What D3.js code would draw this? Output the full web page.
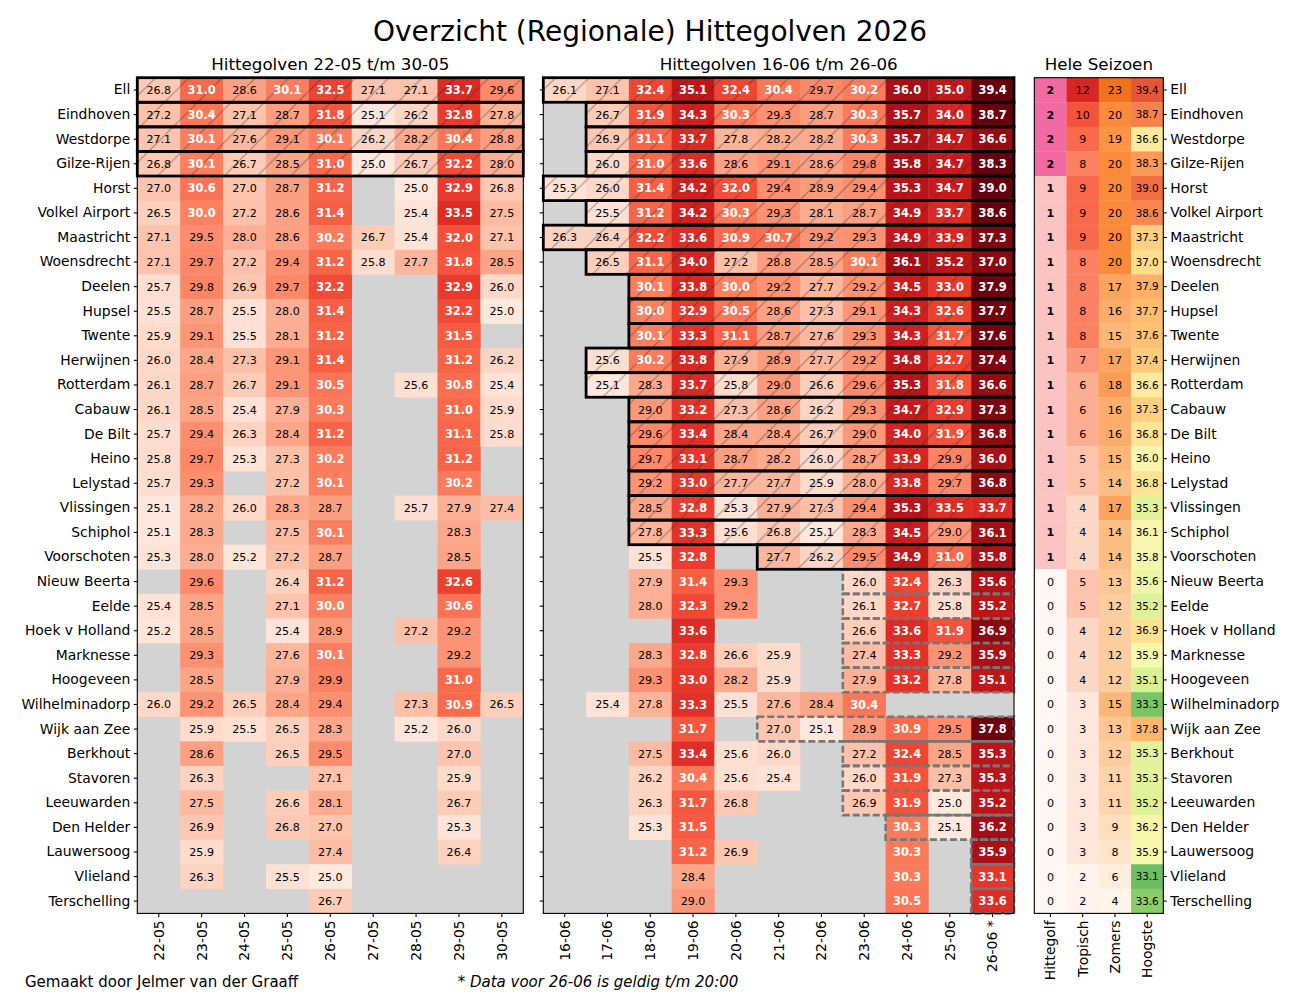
<!DOCTYPE html>
<html><head><meta charset="utf-8">
<script src="https://cdn.jsdelivr.net/npm/d3@7"></script>
<style>body{margin:0;background:#fff}</style>
</head><body><div id="chart"></div>
<script>
const stations = ["Ell","Eindhoven","Westdorpe","Gilze-Rijen","Horst","Volkel Airport","Maastricht","Woensdrecht","Deelen","Hupsel","Twente","Herwijnen","Rotterdam","Cabauw","De Bilt","Heino","Lelystad","Vlissingen","Schiphol","Voorschoten","Nieuw Beerta","Eelde","Hoek v Holland","Marknesse","Hoogeveen","Wilhelminadorp","Wijk aan Zee","Berkhout","Stavoren","Leeuwarden","Den Helder","Lauwersoog","Vlieland","Terschelling"];
const datesA = ["22-05","23-05","24-05","25-05","26-05","27-05","28-05","29-05","30-05"];
const datesB = ["16-06","17-06","18-06","19-06","20-06","21-06","22-06","23-06","24-06","25-06","26-06 *"];
const summaryCols = ["Hittegolf","Tropisch","Zomers","Hoogste"];

const tempsA = [
[26.8,31.0,28.6,30.1,32.5,27.1,27.1,33.7,29.6],
[27.2,30.4,27.1,28.7,31.8,25.1,26.2,32.8,27.8],
[27.1,30.1,27.6,29.1,30.1,26.2,28.2,30.4,28.8],
[26.8,30.1,26.7,28.5,31.0,25.0,26.7,32.2,28.0],
[27.0,30.6,27.0,28.7,31.2,null,25.0,32.9,26.8],
[26.5,30.0,27.2,28.6,31.4,null,25.4,33.5,27.5],
[27.1,29.5,28.0,28.6,30.2,26.7,25.4,32.0,27.1],
[27.1,29.7,27.2,29.4,31.2,25.8,27.7,31.8,28.5],
[25.7,29.8,26.9,29.7,32.2,null,null,32.9,26.0],
[25.5,28.7,25.5,28.0,31.4,null,null,32.2,25.0],
[25.9,29.1,25.5,28.1,31.2,null,null,31.5,null],
[26.0,28.4,27.3,29.1,31.4,null,null,31.2,26.2],
[26.1,28.7,26.7,29.1,30.5,null,25.6,30.8,25.4],
[26.1,28.5,25.4,27.9,30.3,null,null,31.0,25.9],
[25.7,29.4,26.3,28.4,31.2,null,null,31.1,25.8],
[25.8,29.7,25.3,27.3,30.2,null,null,31.2,null],
[25.7,29.3,null,27.2,30.1,null,null,30.2,null],
[25.1,28.2,26.0,28.3,28.7,null,25.7,27.9,27.4],
[25.1,28.3,null,27.5,30.1,null,null,28.3,null],
[25.3,28.0,25.2,27.2,28.7,null,null,28.5,null],
[null,29.6,null,26.4,31.2,null,null,32.6,null],
[25.4,28.5,null,27.1,30.0,null,null,30.6,null],
[25.2,28.5,null,25.4,28.9,null,27.2,29.2,null],
[null,29.3,null,27.6,30.1,null,null,29.2,null],
[null,28.5,null,27.9,29.9,null,null,31.0,null],
[26.0,29.2,26.5,28.4,29.4,null,27.3,30.9,26.5],
[null,25.9,25.5,26.5,28.3,null,25.2,26.0,null],
[null,28.6,null,26.5,29.5,null,null,27.0,null],
[null,26.3,null,null,27.1,null,null,25.9,null],
[null,27.5,null,26.6,28.1,null,null,26.7,null],
[null,26.9,null,26.8,27.0,null,null,25.3,null],
[null,25.9,null,null,27.4,null,null,26.4,null],
[null,26.3,null,25.5,25.0,null,null,null,null],
[null,null,null,null,26.7,null,null,null,null]
];

const tempsB = [
[26.1,27.1,32.4,35.1,32.4,30.4,29.7,30.2,36.0,35.0,39.4],
[null,26.7,31.9,34.3,30.3,29.3,28.7,30.3,35.7,34.0,38.7],
[null,26.9,31.1,33.7,27.8,28.2,28.2,30.3,35.7,34.7,36.6],
[null,26.0,31.0,33.6,28.6,29.1,28.6,29.8,35.8,34.7,38.3],
[25.3,26.0,31.4,34.2,32.0,29.4,28.9,29.4,35.3,34.7,39.0],
[null,25.5,31.2,34.2,30.3,29.3,28.1,28.7,34.9,33.7,38.6],
[26.3,26.4,32.2,33.6,30.9,30.7,29.2,29.3,34.9,33.9,37.3],
[null,26.5,31.1,34.0,27.2,28.8,28.5,30.1,36.1,35.2,37.0],
[null,null,30.1,33.8,30.0,29.2,27.7,29.2,34.5,33.0,37.9],
[null,null,30.0,32.9,30.5,28.6,27.3,29.1,34.3,32.6,37.7],
[null,null,30.1,33.3,31.1,28.7,27.6,29.3,34.3,31.7,37.6],
[null,25.6,30.2,33.8,27.9,28.9,27.7,29.2,34.8,32.7,37.4],
[null,25.1,28.3,33.7,25.8,29.0,26.6,29.6,35.3,31.8,36.6],
[null,null,29.0,33.2,27.3,28.6,26.2,29.3,34.7,32.9,37.3],
[null,null,29.6,33.4,28.4,28.4,26.7,29.0,34.0,31.9,36.8],
[null,null,29.7,33.1,28.7,28.2,26.0,28.7,33.9,29.9,36.0],
[null,null,29.2,33.0,27.7,27.7,25.9,28.0,33.8,29.7,36.8],
[null,null,28.5,32.8,25.3,27.9,27.3,29.4,35.3,33.5,33.7],
[null,null,27.8,33.3,25.6,26.8,25.1,28.3,34.5,29.0,36.1],
[null,null,25.5,32.8,null,27.7,26.2,29.5,34.9,31.0,35.8],
[null,null,27.9,31.4,29.3,null,null,26.0,32.4,26.3,35.6],
[null,null,28.0,32.3,29.2,null,null,26.1,32.7,25.8,35.2],
[null,null,null,33.6,null,null,null,26.6,33.6,31.9,36.9],
[null,null,28.3,32.8,26.6,25.9,null,27.4,33.3,29.2,35.9],
[null,null,29.3,33.0,28.2,25.9,null,27.9,33.2,27.8,35.1],
[null,25.4,27.8,33.3,25.5,27.6,28.4,30.4,null,null,null],
[null,null,null,31.7,null,27.0,25.1,28.9,30.9,29.5,37.8],
[null,null,27.5,33.4,25.6,26.0,null,27.2,32.4,28.5,35.3],
[null,null,26.2,30.4,25.6,25.4,null,26.0,31.9,27.3,35.3],
[null,null,26.3,31.7,26.8,null,null,26.9,31.9,25.0,35.2],
[null,null,25.3,31.5,null,null,null,null,30.3,25.1,36.2],
[null,null,null,31.2,26.9,null,null,null,30.3,null,35.9],
[null,null,null,28.4,null,null,null,null,30.3,null,33.1],
[null,null,null,29.0,null,null,null,null,30.5,null,33.6]
];

const hittegolf = [2,2,2,2,1,1,1,1,1,1,1,1,1,1,1,1,1,1,1,1,0,0,0,0,0,0,0,0,0,0,0,0,0,0];
const tropisch  = [12,10,9,8,9,9,9,8,8,8,8,7,6,6,6,5,5,4,4,4,5,5,4,4,4,3,3,3,3,3,3,3,2,2];
const zomers    = [23,20,19,20,20,20,20,20,17,16,15,17,18,16,16,15,14,17,14,14,13,12,12,12,12,15,13,12,11,11,9,8,6,4];
const hoogste   = [39.4,38.7,36.6,38.3,39.0,38.6,37.3,37.0,37.9,37.7,37.6,37.4,36.6,37.3,36.8,36.0,36.8,35.3,36.1,35.8,35.6,35.2,36.9,35.9,35.1,33.3,37.8,35.3,35.3,35.2,36.2,35.9,33.1,33.6];

// confirmed heat waves (first day, last day) per station
const wavesA = [["22-05","30-05"],["22-05","30-05"],["22-05","30-05"],["22-05","30-05"]];
const wavesB = [["16-06","26-06 *"],["17-06","26-06 *"],["17-06","26-06 *"],["17-06","26-06 *"],["16-06","26-06 *"],["17-06","26-06 *"],["16-06","26-06 *"],["17-06","26-06 *"],["18-06","26-06 *"],["18-06","26-06 *"],["18-06","26-06 *"],["17-06","26-06 *"],["17-06","26-06 *"],["18-06","26-06 *"],["18-06","26-06 *"],["18-06","26-06 *"],["18-06","26-06 *"],["18-06","26-06 *"],["18-06","26-06 *"],["21-06","26-06 *"]];
// possible (not yet confirmed) heat waves per station
const pendingB = [null,null,null,null,null,null,null,null,null,null,null,null,null,null,null,null,null,null,null,null,
["23-06","26-06 *"],["23-06","26-06 *"],["23-06","26-06 *"],["23-06","26-06 *"],["23-06","26-06 *"],null,["21-06","26-06 *"],["23-06","26-06 *"],["23-06","26-06 *"],["23-06","26-06 *"],["24-06","26-06 *"],["26-06 *","26-06 *"],["26-06 *","26-06 *"],["26-06 *","26-06 *"]];

const W = 1300, H = 1000;
const FONT = "DejaVu Sans, sans-serif";
const svg = d3.select("#chart").append("svg").attr("width", W).attr("height", H)
  .style("font-family", FONT);

const defs = svg.append("defs");
const hs = 33.333;
const pat = defs.append("pattern").attr("id","hatch").attr("patternUnits","userSpaceOnUse")
  .attr("width", hs).attr("height", hs).attr("x",0).attr("y",0);
pat.append("path").attr("d", `M-2,2 L2,-2 M0,${hs} L${hs},0 M${hs-2},${hs+2} L${hs+2},${hs-2}`)
  .attr("stroke","rgba(40,40,40,0.45)").attr("stroke-width",1);

const yTop = 77.7, yBot = 913.4;
const y = d3.scaleBand().domain(stations).range([yTop, yBot]);
const xA = d3.scaleBand().domain(datesA).range([137.3, 523.3]);
const xB = d3.scaleBand().domain(datesB).range([543.3, 1014]);
const xC = d3.scaleBand().domain(summaryCols).range([1034.3, 1163.3]);
const tempColor = d3.scaleSequential(d3.interpolateReds).domain([24, 38]).clamp(true);

function drawPanel(x, dates, temps, waves, pending) {
  const g = svg.append("g");
  const [x0, x1] = x.range();
  g.append("rect").attr("x", x0).attr("y", yTop).attr("width", x1 - x0).attr("height", yBot - yTop)
    .attr("fill", "#d3d3d3");
  const cells = [];
  temps.forEach((row, i) => row.forEach((v, j) => {
    if (v !== null) cells.push({s: stations[i], d: dates[j], v});
  }));
  g.selectAll("rect.cell").data(cells).join("rect").attr("class","cell")
    .attr("x", d => x(d.d)).attr("y", d => y(d.s))
    .attr("width", x.bandwidth() + 0.3).attr("height", y.bandwidth() + 0.3)
    .attr("fill", d => tempColor(d.v));
  const wv = [];
  waves.forEach((w, i) => { if (w) wv.push({s: stations[i], a: w[0], b: w[1]}); });
  g.selectAll("rect.hatch").data(wv).join("rect").attr("class","hatch")
    .attr("x", d => x(d.a)).attr("y", d => y(d.s))
    .attr("width", d => x(d.b) + x.bandwidth() - x(d.a)).attr("height", y.bandwidth())
    .attr("fill", "url(#hatch)");
  g.selectAll("text.val").data(cells).join("text").attr("class","val")
    .attr("x", d => x(d.d) + x.bandwidth() / 2).attr("y", d => y(d.s) + y.bandwidth() / 2)
    .attr("dy", "0.36em").attr("text-anchor", "middle")
    .attr("font-size", d => d.v >= 30 ? "11.4px" : "11.1px")
    .attr("font-weight", d => d.v >= 30 ? "bold" : "normal")
    .attr("fill", d => d.v >= 30 ? "#fff" : "#000")
    .text(d => d.v.toFixed(1));
  const pv = [];
  (pending || []).forEach((w, i) => { if (w) pv.push({s: stations[i], a: w[0], b: w[1]}); });
  g.selectAll("rect.pend").data(pv).join("rect").attr("class","pend")
    .attr("x", d => x(d.a)).attr("y", d => y(d.s))
    .attr("width", d => x(d.b) + x.bandwidth() - x(d.a)).attr("height", y.bandwidth())
    .attr("fill", "none").attr("stroke", "#777").attr("stroke-width", 2.6)
    .attr("stroke-dasharray", "7,3");
  g.selectAll("rect.wave").data(wv).join("rect").attr("class","wave")
    .attr("x", d => x(d.a)).attr("y", d => y(d.s))
    .attr("width", d => x(d.b) + x.bandwidth() - x(d.a)).attr("height", y.bandwidth())
    .attr("fill", "none").attr("stroke", "#000").attr("stroke-width", 2.8);
  g.append("rect").attr("x", x0).attr("y", yTop).attr("width", x1 - x0).attr("height", yBot - yTop)
    .attr("fill", "none").attr("stroke", "#000").attr("stroke-width", 1.1);
}

drawPanel(xA, datesA, tempsA, wavesA, null);
drawPanel(xB, datesB, tempsB, wavesB, pendingB);

// summary panel
const summary = [
  {col: "Hittegolf", vals: hittegolf, color: v => d3.interpolateRdPu(v / 4), fmt: v => String(v), bold: v => v > 0, size: 11.1},
  {col: "Tropisch", vals: tropisch, color: v => d3.interpolateReds((v - 1.8) / 14.5), fmt: v => String(v), bold: () => false, size: 11.1},
  {col: "Zomers", vals: zomers, color: v => d3.interpolateOranges((v - 4) / 31.7), fmt: v => String(v), bold: () => false, size: 11.1},
  {col: "Hoogste", vals: hoogste, color: v => d3.interpolateRdYlGn(1 - (v - 31) / 10), fmt: v => v.toFixed(1), bold: () => false, size: 10.3}
];
const gC = svg.append("g");
summary.forEach(c => {
  const data = c.vals.map((v, i) => ({s: stations[i], v}));
  gC.selectAll(null).data(data).join("rect")
    .attr("x", xC(c.col)).attr("y", d => y(d.s))
    .attr("width", xC.bandwidth() + 0.3).attr("height", y.bandwidth() + 0.3)
    .attr("fill", d => c.color(d.v));
  gC.selectAll(null).data(data).join("text")
    .attr("x", xC(c.col) + xC.bandwidth() / 2).attr("y", d => y(d.s) + y.bandwidth() / 2)
    .attr("dy", "0.36em").attr("text-anchor", "middle").attr("font-size", c.size + "px")
    .attr("font-weight", d => c.bold(d.v) ? "bold" : "normal").attr("fill", "#000")
    .text(d => c.fmt(d.v));
});
gC.append("rect").attr("x", xC.range()[0]).attr("y", yTop)
  .attr("width", xC.range()[1] - xC.range()[0]).attr("height", yBot - yTop)
  .attr("fill", "none").attr("stroke", "#000").attr("stroke-width", 1.1);

// axes
function styleAxis(sel) {
  sel.select(".domain").remove();
  sel.selectAll(".tick line").attr("stroke", "#000").attr("stroke-width", 1.1);
  sel.selectAll(".tick text").attr("fill", "#000").style("font-size", "13.9px").style("font-family", FONT);
}
svg.append("g").attr("transform", `translate(${xA.range()[0]},0)`)
  .call(d3.axisLeft(y).tickSize(3.5).tickPadding(3.5)).call(styleAxis);
svg.append("g").attr("transform", `translate(${xB.range()[0]},0)`)
  .call(d3.axisLeft(y).tickSize(3.5).tickFormat("")).call(styleAxis);
svg.append("g").attr("transform", `translate(${xC.range()[1]},0)`)
  .call(d3.axisRight(y).tickSize(3.5).tickPadding(3.5)).call(styleAxis);

[xA, xB, xC].forEach(sc => {
  const ax = svg.append("g").attr("transform", `translate(0,${yBot})`)
    .call(d3.axisBottom(sc).tickSize(3.5)).call(styleAxis);
  ax.selectAll(".tick text").attr("transform", "rotate(-90)")
    .attr("text-anchor", "end").attr("x", -7).attr("y", 0).attr("dy", "0.35em");
});

// titles
svg.append("text").attr("x", 650).attr("y", 41).attr("text-anchor", "middle")
  .attr("font-size", "28px").text("Overzicht (Regionale) Hittegolven 2026");
const subs = [[xA, "Hittegolven 22-05 t/m 30-05"], [xB, "Hittegolven 16-06 t/m 26-06"], [xC, "Hele Seizoen"]];
subs.forEach(([sc, t]) => {
  svg.append("text").attr("x", (sc.range()[0] + sc.range()[1]) / 2).attr("y", 70)
    .attr("text-anchor", "middle").attr("font-size", "16.7px").text(t);
});
svg.append("text").attr("x", 25).attr("y", 987).attr("font-size", "15px")
  .text("Gemaakt door Jelmer van der Graaff");
svg.append("text").attr("x", 598).attr("y", 987).attr("text-anchor", "middle")
  .attr("font-size", "15px").attr("font-style", "italic")
  .text("* Data voor 26-06 is geldig t/m 20:00");
</script>
</body></html>
